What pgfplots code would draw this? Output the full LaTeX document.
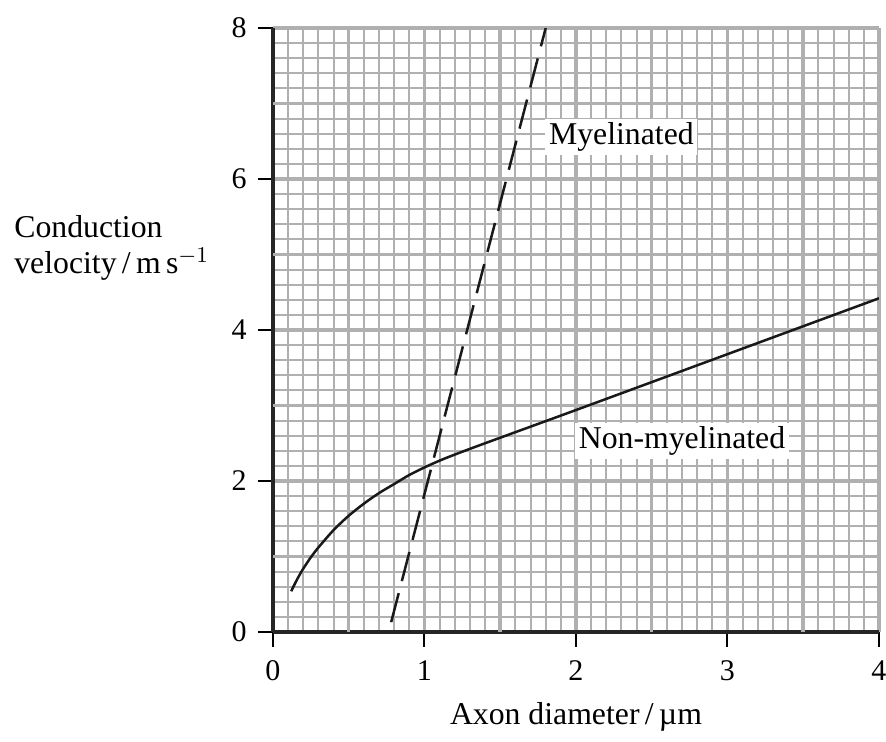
\documentclass[border=0pt]{standalone}
\usepackage{fontspec}
\setmainfont{Liberation Serif}
\usepackage{pgfplots}
\pgfplotsset{compat=1.18}
\definecolor{gridgrey}{RGB}{176,176,176}

\begin{document}
\begin{tikzpicture}
\useasboundingbox (-109.2pt,-44pt) rectangle (245.2pt,252.8pt);
\begin{axis}[
  scale only axis,
  width=242.4pt, height=241.6pt,
  xmin=0, xmax=4, ymin=0, ymax=8,
  axis lines*=left,
  axis line style={-, black!85, line width=1.6pt},
  font=\fontsize{12.7pt}{14.5pt}\selectfont,
  tick label style={font=\fontsize{12pt}{14pt}\selectfont},
  /pgf/number format/assume math mode=true,
  xtick={0,1,2,3,4}, ytick={0,2,4,6,8},
  extra x ticks={0.5,1.5,2.5,3.5}, extra x tick labels={},
  extra y ticks={1,3,5,7}, extra y tick labels={},
  extra tick style={major tick length=0pt},
  minor xtick={0,0.1,...,4.05},
  minor ytick={0,0.2,...,8.1},
  tick align=outside,
  major tick length=6pt, minor tick length=0pt,
  major tick style={black, line width=0.8pt},
  grid=both,
  major grid style={gridgrey, line width=1.4pt},
  minor grid style={gridgrey, line width=0.8pt},
  xticklabel style={yshift=-2pt},
  yticklabel style={xshift=-1pt},
  xlabel={Axon diameter\,/\,µm},
  every axis x label/.style={at={(rel axis cs:0.5,0)}, anchor=center, yshift=-34pt},
  ylabel={Conduction\\velocity\,/\,m\,s$^{-1}$},
  every axis y label/.style={at={(rel axis cs:0,0.636)}, anchor=east, xshift=-22pt, align=left},
]
\addplot[black!90, line width=1pt, smooth, tension=0.5] coordinates {
  (0.12,0.54) (0.16,0.70) (0.2,0.84) (0.25,0.99) (0.3,1.12) (0.4,1.35)
  (0.5,1.54) (0.6,1.70) (0.7,1.84) (0.8,1.96) (0.9,2.08) (1.0,2.18)
  (1.1,2.27) (1.2,2.35) (1.4,2.50) (2.0,2.94) (3.0,3.68) (4.0,4.42)
};
\addplot[black!90, line width=1pt, dash pattern=on 12pt off 5pt] coordinates {
  (0.78,0.13) (1.80,8.0)
};
\node[fill=white, inner sep=1.5pt] at (axis cs:2.30,6.56) {Myelinated};
\node[fill=white, inner sep=1.5pt] at (axis cs:2.70,2.53) {Non-myelinated};
\end{axis}
\end{tikzpicture}
\end{document}
